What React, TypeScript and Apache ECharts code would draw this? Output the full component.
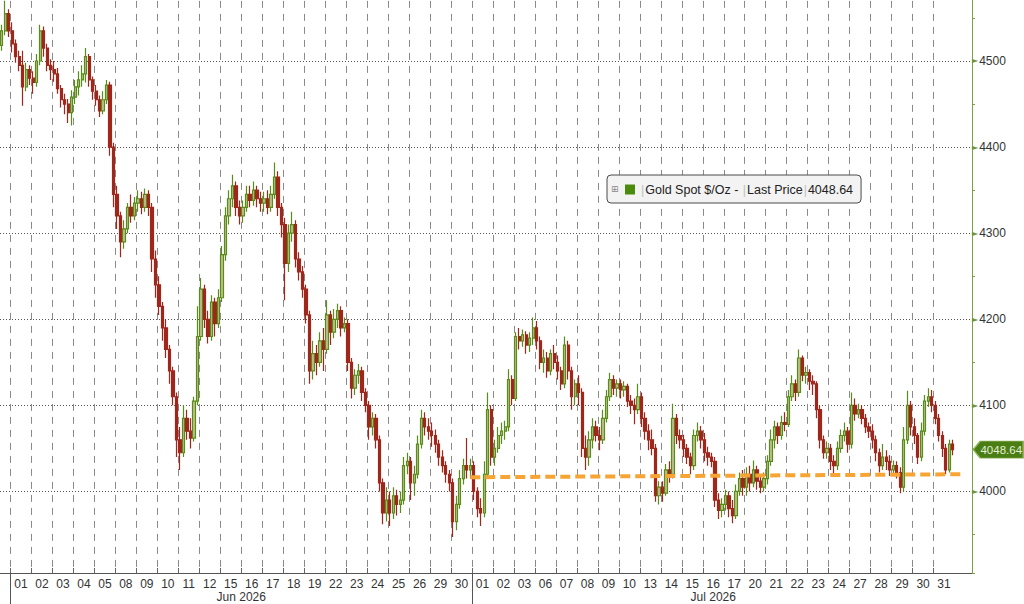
import React, { useEffect, useRef } from "react";
import * as echarts from "echarts";

const SERIES_NAME = "Gold Spot $/Oz";
const LAST_PRICE = 4048.64;
const TREND_START = 4016.5;
const TREND_END = 4020;

const junDays = ["01","02","03","04","05","08","09","10","11","12","15","16","17","18","19","22","23","24","25","26","29","30"];
const julDays = ["01","02","03","06","07","08","09","10","13","14","15","16","17","20","21","22","23","24","27","28","29","30","31"];
const monthLabels = ["Jun 2026", "Jul 2026"];

// [open, close, low, high] — 4-hour candles
const may29Candles = [
  [4518,4535,4512,4542],[4535,4555,4530,4570],[4555,4535,4528,4560],
];

const junCandles = [
  // 01
  [4535,4520,4510,4545],[4520,4505,4498,4525],[4505,4495,4488,4512],[4495,4470,4448,4512],[4470,4490,4465,4498],[4490,4480,4472,4495],
  // 02
  [4480,4475,4462,4488],[4475,4500,4470,4508],[4500,4535,4495,4542],[4535,4515,4505,4540],[4515,4495,4488,4520],[4495,4490,4478,4502],
  // 03
  [4490,4485,4476,4500],[4485,4468,4462,4492],[4468,4455,4446,4472],[4455,4450,4438,4462],[4450,4440,4428,4456],[4440,4458,4425,4466],
  // 04
  [4458,4470,4450,4478],[4470,4478,4460,4488],[4478,4485,4470,4495],[4485,4505,4475,4515],[4505,4478,4470,4508],[4478,4465,4455,4482],
  // 05
  [4465,4455,4448,4472],[4455,4442,4435,4460],[4442,4455,4438,4465],[4455,4472,4450,4478],[4472,4400,4390,4476],[4400,4345,4330,4405],
  // 08
  [4345,4320,4305,4355],[4320,4290,4272,4325],[4290,4305,4282,4315],[4305,4330,4300,4335],[4330,4320,4312,4345],[4320,4335,4315,4342],
  // 09
  [4335,4340,4325,4350],[4340,4330,4322,4348],[4330,4345,4325,4352],[4345,4330,4320,4350],[4330,4270,4255,4335],[4270,4240,4225,4280],
  // 10
  [4240,4215,4205,4250],[4215,4190,4175,4220],[4190,4165,4155,4200],[4165,4140,4125,4170],[4140,4110,4100,4145],[4110,4060,4040,4115],
  // 11
  [4060,4045,4025,4075],[4045,4085,4040,4100],[4085,4070,4060,4095],[4070,4062,4050,4085],[4062,4105,4058,4110],[4105,4180,4100,4215],
  // 12
  [4180,4235,4175,4248],[4235,4200,4190,4240],[4200,4180,4172,4210],[4180,4220,4175,4228],[4220,4195,4180,4225],[4195,4225,4190,4235],
  // 15
  [4225,4275,4220,4285],[4275,4320,4268,4330],[4320,4340,4310,4350],[4340,4355,4330,4368],[4355,4330,4320,4360],[4330,4320,4310,4338],
  // 16
  [4320,4330,4312,4338],[4330,4345,4325,4355],[4345,4338,4330,4355],[4338,4350,4332,4360],[4350,4340,4330,4355],[4340,4335,4325,4348],
  // 17
  [4335,4340,4325,4348],[4340,4330,4322,4350],[4330,4345,4325,4355],[4345,4365,4340,4382],[4365,4330,4320,4372],[4330,4310,4295,4335],
  // 18
  [4310,4265,4222,4318],[4265,4300,4255,4310],[4300,4310,4290,4325],[4310,4270,4260,4315],[4270,4255,4245,4278],[4255,4235,4225,4262],
  // 19
  [4235,4205,4195,4240],[4205,4140,4125,4210],[4140,4160,4130,4175],[4160,4150,4135,4170],[4150,4175,4145,4185],[4175,4165,4140,4190],
  // 22
  [4165,4205,4160,4222],[4205,4185,4170,4210],[4185,4200,4178,4212],[4200,4210,4190,4218],[4210,4190,4180,4215],[4190,4195,4185,4202],
  // 23
  [4195,4150,4140,4200],[4150,4120,4108,4155],[4120,4135,4112,4142],[4135,4140,4125,4148],[4140,4115,4105,4145],[4115,4100,4092,4120],
  // 24
  [4100,4075,4060,4105],[4075,4085,4065,4092],[4085,4060,4050,4090],[4060,4010,4000,4065],[4010,3975,3962,4015],[3975,3990,3965,4005],
  // 25
  [3990,3975,3960,4000],[3975,3995,3968,4005],[3995,3985,3972,4002],[3985,3990,3975,4000],[3990,4030,3985,4040],[4030,4035,4020,4045],
  // 26
  [4035,4010,3990,4040],[4010,4020,3995,4030],[4020,4055,4015,4065],[4055,4085,4050,4095],[4085,4075,4065,4092],[4075,4070,4060,4085],
  // 29
  [4070,4065,4052,4080],[4065,4055,4045,4072],[4055,4040,4030,4060],[4040,4030,4022,4048],[4030,4020,4010,4035],[4020,4010,4000,4025],
  // 30
  [4010,3965,3947,4015],[3965,3985,3955,3995],[3985,4015,3980,4025],[4015,4030,4008,4038],[4030,4025,4015,4062],[4025,4030,4015,4038],
];

const julCandles = [
  // 01
  [4030,4000,3990,4035],[4000,3980,3970,4005],[3980,3975,3960,3992],[3975,4020,3970,4035],[4020,4095,4015,4115],[4095,4040,4030,4100],
  // 02
  [4040,4050,4030,4060],[4050,4065,4045,4075],[4065,4070,4055,4080],[4070,4075,4060,4082],[4075,4130,4070,4142],[4130,4108,4100,4135],
  // 03
  [4108,4180,4105,4185],[4180,4175,4165,4190],[4175,4182,4168,4188],[4182,4170,4160,4186],[4170,4178,4162,4185],[4178,4190,4170,4202],
  // 06
  [4190,4175,4165,4198],[4175,4150,4142,4180],[4150,4155,4138,4165],[4155,4140,4132,4162],[4140,4160,4135,4165],[4160,4150,4142,4170],
  // 07
  [4150,4140,4130,4158],[4140,4125,4118,4145],[4125,4170,4120,4180],[4170,4140,4130,4175],[4140,4110,4095,4145],[4110,4125,4100,4130],
  // 08
  [4125,4115,4100,4135],[4115,4050,4040,4120],[4050,4040,4025,4065],[4040,4060,4030,4070],[4060,4075,4050,4085],[4075,4065,4058,4082],
  // 09
  [4065,4060,4048,4075],[4060,4085,4055,4095],[4085,4110,4080,4118],[4110,4130,4105,4138],[4130,4120,4112,4135],[4120,4125,4110,4130],
  // 10
  [4125,4118,4108,4130],[4118,4122,4110,4128],[4122,4105,4098,4125],[4105,4100,4090,4112],[4100,4095,4078,4108],[4095,4110,4090,4125],
  // 13
  [4110,4085,4075,4115],[4085,4070,4060,4092],[4070,4060,4048,4078],[4060,4050,4042,4072],[4050,3995,3988,4055],[3995,4005,3985,4012],
  // 14
  [4005,3998,3988,4012],[3998,4025,3995,4032],[4025,4020,4010,4035],[4020,4085,4015,4102],[4085,4065,4055,4090],[4065,4060,4050,4072],
  // 15
  [4060,4050,4040,4066],[4050,4040,4032,4055],[4040,4030,4020,4045],[4030,4065,4025,4072],[4065,4070,4058,4080],[4070,4060,4050,4076],
  // 16
  [4060,4045,4035,4068],[4045,4040,4030,4052],[4040,4035,4028,4045],[4035,3990,3982,4040],[3990,3978,3968,3998],[3978,3985,3970,3992],
  // 17
  [3985,3995,3978,4002],[3995,3980,3970,4000],[3980,3972,3963,3990],[3972,4000,3968,4008],[4000,4015,3995,4022],[4015,4005,3995,4025],
  // 20
  [4005,4020,3995,4028],[4020,4010,4000,4030],[4010,4025,4005,4036],[4025,4012,4002,4030],[4012,4005,3998,4020],[4005,4015,4000,4022],
  // 21
  [4015,4035,4008,4042],[4035,4060,4030,4072],[4060,4075,4050,4082],[4075,4065,4055,4080],[4065,4080,4060,4088],[4080,4078,4070,4092],
  // 22
  [4078,4110,4075,4118],[4110,4125,4105,4135],[4125,4115,4105,4130],[4115,4155,4110,4165],[4155,4135,4128,4158],[4135,4138,4125,4145],
  // 23
  [4138,4128,4118,4142],[4128,4125,4112,4135],[4125,4095,4085,4128],[4095,4060,4050,4100],[4060,4045,4038,4065],[4045,4050,4038,4058],
  // 24
  [4050,4035,4025,4055],[4035,4030,4020,4042],[4030,4050,4025,4058],[4050,4065,4045,4072],[4065,4070,4058,4080],[4070,4055,4045,4075],
  // 27
  [4055,4100,4050,4115],[4100,4090,4082,4108],[4090,4095,4085,4102],[4095,4085,4078,4100],[4085,4075,4068,4090],[4075,4070,4062,4080],
  // 28
  [4070,4060,4050,4078],[4060,4045,4035,4065],[4045,4030,4022,4050],[4030,4040,4025,4055],[4040,4035,4025,4048],[4035,4025,4018,4042],
  // 29
  [4025,4030,4018,4036],[4030,4022,4015,4035],[4022,4005,3998,4028],[4005,4060,4000,4075],[4060,4100,4055,4117],[4100,4075,4065,4105],
  // 30
  [4075,4065,4055,4085],[4065,4040,4032,4068],[4040,4070,4035,4080],[4070,4105,4065,4112],[4105,4110,4098,4120],[4110,4100,4092,4118],
  // 31
  [4100,4085,4078,4105],[4085,4065,4058,4090],[4065,4050,4040,4070],[4050,4025,4020,4055],[4025,4055,4022,4060],[4055,4048.64,4042,4060],
];

const FONT = "'Liberation Sans', Arial, sans-serif";
const SLOTS_PER_DAY = 6;
const LEAD_SLOTS = 3;
const TRAIL_SLOTS = 5;

export default function App() {
  const ref = useRef<HTMLDivElement>(null);

  useEffect(() => {
    if (!ref.current) return;
    const chart = echarts.init(ref.current, null, { renderer: "svg" });

    const candles = [...may29Candles, ...junCandles, ...julCandles];
    const allDays = [
      ...junDays.map((d) => ({ m: 0, d })),
      ...julDays.map((d) => ({ m: 1, d })),
    ];
    const totalSlots = LEAD_SLOTS + allDays.length * SLOTS_PER_DAY + TRAIL_SLOTS;
    const slotNames = Array.from({ length: totalSlots }, (_, i) => "s" + i);

    const halfPoints = totalSlots * 2 + 1;
    const halfNames = Array.from({ length: halfPoints }, (_, i) => "h" + i);
    const dayLabelAt: string[] = new Array(halfPoints).fill("");
    const dayBoundary = new Set<number>();
    allDays.forEach((day, k) => {
      const start = 2 * (LEAD_SLOTS + k * SLOTS_PER_DAY);
      dayBoundary.add(start);
      dayLabelAt[start + SLOTS_PER_DAY] = day.d;
    });
    const monthLabelAt: string[] = new Array(halfPoints).fill("");
    const monthBoundary = new Set<number>();
    const junStart = 2 * LEAD_SLOTS;
    const julStart = 2 * (LEAD_SLOTS + junDays.length * SLOTS_PER_DAY);
    monthBoundary.add(junStart);
    monthBoundary.add(julStart);
    monthLabelAt[junStart + junDays.length * SLOTS_PER_DAY] = monthLabels[0];
    monthLabelAt[julStart + julDays.length * SLOTS_PER_DAY] = monthLabels[1];

    const trendStartIdx = LEAD_SLOTS + junDays.length * SLOTS_PER_DAY - 1;
    const trendEndIdx = candles.length + 2;

    const option: any = {
      animation: false,
      textStyle: { fontFamily: FONT },
      grid: {
        left: 0,
        right: 52,
        top: -25.1,
        bottom: 31,
        containLabel: false,
        outerBoundsMode: "none",
      },
      legend: {
        show: true,
        left: 607,
        top: 175,
        z: 5,
        selectedMode: false,
        backgroundColor: "#f3f3f3",
        borderColor: "#4a4a4a",
        borderWidth: 1,
        borderRadius: 4,
        padding: [8, 8, 7, 18],
        itemWidth: 10,
        itemHeight: 10,
        data: [
          {
            name: SERIES_NAME,
            icon: "rect",
            itemStyle: { color: "#4a8a0c", borderWidth: 0 },
          },
        ],
        formatter: () =>
          `{s||}{a|${SERIES_NAME} - }{s||}{a|Last Price}{s||}{a|${LAST_PRICE.toFixed(2)}}`,
        textStyle: {
          fontFamily: FONT,
          fontSize: 12.5,
          color: "#222",
          rich: {
            a: { fontFamily: FONT, fontSize: 12.5, color: "#222" },
            s: { fontFamily: FONT, fontSize: 12.5, color: "#c0c0c0", padding: [0, 1, 0, 1] },
          },
        },
      },
      graphic: [
        {
          type: "text",
          left: 611,
          top: 184,
          z: 100,
          zlevel: 0,
          style: { text: "⊞", fontSize: 9, fill: "#8a8a8a", fontFamily: "DejaVu Sans" },
        },
      ],
      xAxis: [
        {
          type: "category",
          data: slotNames,
          show: false,
          boundaryGap: true,
          position: "bottom",
        },
        {
          type: "category",
          data: halfNames,
          boundaryGap: false,
          position: "bottom",
          axisLine: { show: true, lineStyle: { color: "#555", width: 1 } },
          axisTick: {
            show: true,
            inside: true,
            length: 5,
            interval: (i: number) => dayBoundary.has(i),
            lineStyle: { color: "#666" },
          },
          axisLabel: {
            show: true,
            interval: 0,
            margin: 5,
            color: "#333",
            fontSize: 12,
            fontFamily: FONT,
            formatter: (_v: string, i: number) => dayLabelAt[i],
          },
          splitLine: {
            show: true,
            interval: (i: number) => dayBoundary.has(i),
            lineStyle: { color: "#8a8a8a", type: [7, 6], width: 1 },
          },
        },
        {
          type: "category",
          data: halfNames,
          boundaryGap: false,
          position: "bottom",
          axisLine: { show: false },
          axisTick: {
            show: true,
            length: 31,
            interval: (i: number) => monthBoundary.has(i),
            lineStyle: { color: "#555" },
          },
          axisLabel: {
            show: true,
            interval: 0,
            margin: 18,
            color: "#333",
            fontSize: 12,
            fontFamily: FONT,
            formatter: (_v: string, i: number) => monthLabelAt[i],
          },
          splitLine: { show: false },
        },
      ],
      yAxis: {
        type: "value",
        position: "right",
        min: 3905.3,
        max: 4600,
        splitNumber: 7,
        scale: true,
        axisLine: { show: true, lineStyle: { color: "#7f9f45", width: 1 } },
        axisTick: { show: true, length: 3, lineStyle: { color: "#7f9f45" } },
        minorTick: { show: true, splitNumber: 2, length: 3, lineStyle: { color: "#7f9f45" } },
        axisLabel: {
          show: true,
          margin: 0,
          showMinLabel: false,
          showMaxLabel: false,
          color: "#333",
          fontSize: 12,
          fontFamily: FONT,
          formatter: (v: number) =>
            Math.abs(v % 100) < 1e-6 && v < 4550 && v > 3950 ? `{t|►}{v|${v}}` : "",
          rich: {
            t: { fontSize: 8, color: "#6f9236", fontFamily: "DejaVu Sans", padding: [0, 1, 0, 0] },
            v: { fontSize: 12, color: "#333", fontFamily: FONT },
          },
        },
        splitLine: { show: true, lineStyle: { color: "#555", type: [1, 2], width: 1 } },
      },
      series: [
        {
          name: SERIES_NAME,
          type: "candlestick",
          xAxisIndex: 0,
          yAxisIndex: 0,
          data: candles,
          barWidth: 2.8,
          itemStyle: {
            color: "#bfc08f",
            color0: "#a0261c",
            borderColor: "#5a8c1a",
            borderColor0: "#a0261c",
            borderWidth: 1.2,
          },
          markLine: {
            silent: true,
            symbol: ["none", "none"],
            label: { show: false },
            lineStyle: { color: "#f6a434", width: 4, type: [10, 5] },
            data: [
              [
                { coord: [trendStartIdx, TREND_START] },
                { coord: [trendEndIdx, TREND_END] },
              ],
            ],
          },
          markPoint: {
            silent: true,
            symbol: "path://M0,8 L7,0 L50,0 L50,16 L7,16 Z",
            symbolSize: [50, 17],
            symbolKeepAspect: false,
            itemStyle: { color: "#4a7d14", borderColor: "#8fb35a", borderWidth: 1 },
            label: {
              show: true,
              position: "inside",
              color: "#e3eed3",
              fontSize: 11.5,
              fontFamily: FONT,
              offset: [3, 0],
              formatter: () => LAST_PRICE.toFixed(2),
            },
            data: [
              {
                coord: [totalSlots - 1, LAST_PRICE],
                symbolOffset: [28, 0],
                value: LAST_PRICE,
              },
            ],
          },
        },
      ],
    };

    chart.setOption(option);
    return () => chart.dispose();
  }, []);

  return (
    <div
      ref={ref}
      style={{ position: "fixed", left: 0, top: 0, width: 1024, height: 604, background: "#fff" }}
    />
  );
}
